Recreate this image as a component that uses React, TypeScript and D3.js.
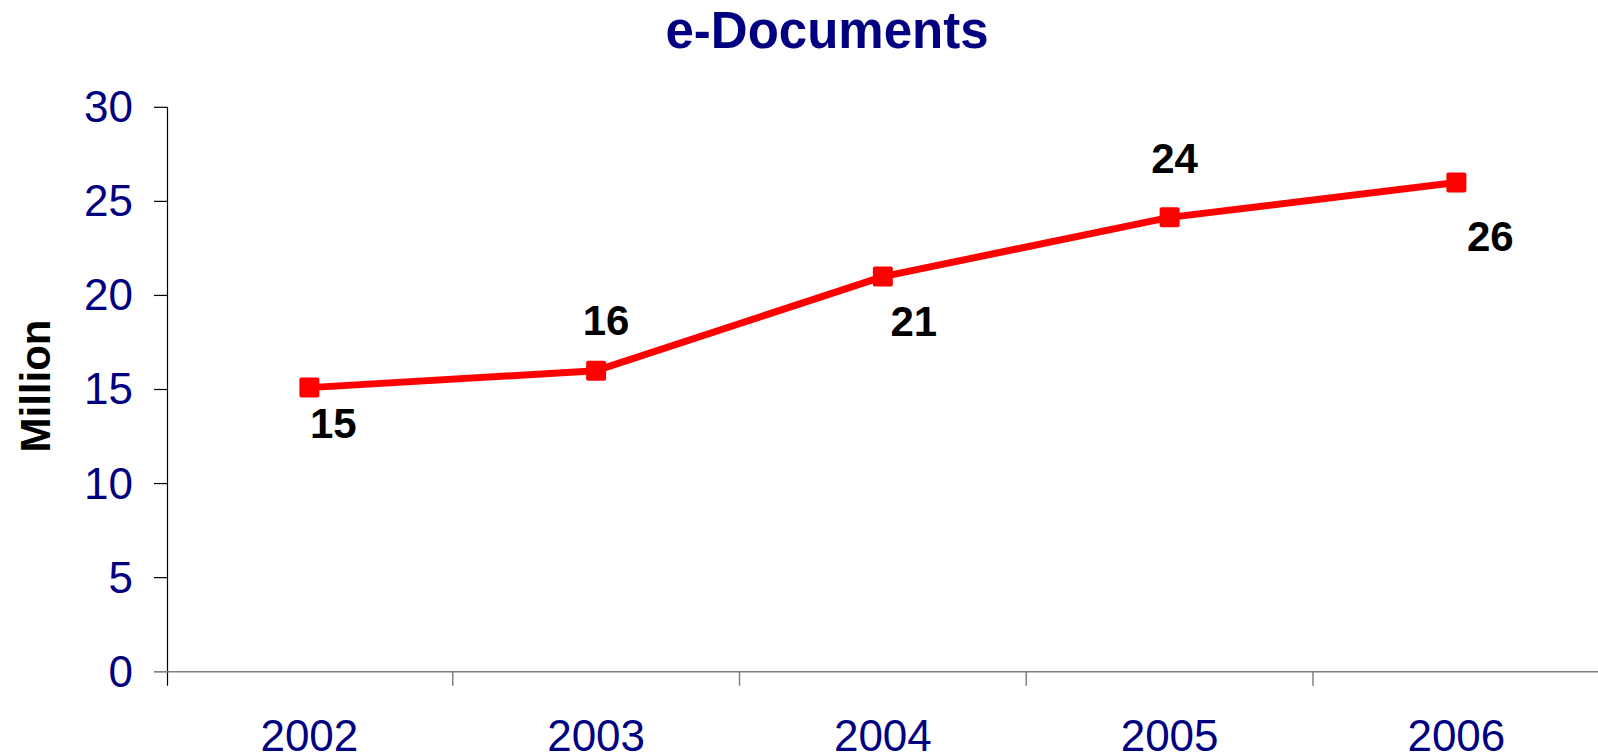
import React, { useEffect } from "react";
import * as d3 from "d3";

const years = ["2002", "2003", "2004", "2005", "2006"];
const documents = [15.1, 16, 21, 24.15, 26];
const yTicks = [0, 5, 10, 15, 20, 25, 30];

// label nudges (dx, dy from the marker centre), as placed in the original
const labelOffsets: [number, number][] = [
  [24, 50],
  [10, -36],
  [31, 59],
  [5, -44],
  [34, 68],
];

const W = 1598;
const H = 756;
const FONT = "'Liberation Sans', Arial, sans-serif";
const NAVY = "#000080";

const App: React.FC = () => {
  useEffect(() => {
    document.body.style.margin = "0";
    document.body.style.overflow = "hidden";
  }, []);

  const axisX = 167.5;
  const x = d3
    .scaleBand<string>()
    .domain(years)
    .range([166, 166 + 5 * 286.75]);
  const y = d3.scaleLinear().domain([0, 30]).range([671.7, 107.3]);
  const cx = (d: string) => (x(d) ?? 0) + x.bandwidth() / 2;

  const line = d3
    .line<number>()
    .x((_, i) => cx(years[i]))
    .y((v) => y(v));

  const fmt = d3.format(".0f");
  const y0 = y(0);

  return (
    <svg
      width={W}
      height={H}
      style={{ position: "absolute", left: 0, top: 0, display: "block" }}
      fontFamily={FONT}
    >
      <rect width={W} height={H} fill="#fff" />
      <text
        x={827}
        y={48}
        textAnchor="middle"
        fontSize={51}
        fontWeight="bold"
        fill={NAVY}
      >
        e-Documents
      </text>

      <text
        transform={`translate(50,386) rotate(-90)`}
        textAnchor="middle"
        fontSize={42}
        fontWeight="bold"
        fill="#000"
      >
        Million
      </text>

      {/* y axis */}
      <line x1={axisX} x2={axisX} y1={y(30)} y2={y0 + 14} stroke="#000" strokeWidth={1.2} />
      {yTicks.map((t) => (
        <g key={t}>
          <line x1={154} x2={axisX} y1={y(t)} y2={y(t)} stroke={t === 0 ? "#808080" : "#000"} strokeWidth={1.2} />
          <text
            x={133}
            y={y(t)}
            dy="0.34em"
            textAnchor="end"
            fontSize={44}
            fill={NAVY}
          >
            {t}
          </text>
        </g>
      ))}

      {/* x axis */}
      <line x1={154} x2={W} y1={y0} y2={y0} stroke="#808080" strokeWidth={1.5} />
      {years.slice(1).map((d) => (
        <line
          key={d}
          x1={x(d)}
          x2={x(d)}
          y1={y0}
          y2={y0 + 14}
          stroke="#808080"
          strokeWidth={1.5}
        />
      ))}
      {years.map((d) => (
        <text
          key={d}
          x={cx(d)}
          y={751}
          textAnchor="middle"
          fontSize={44}
          fill={NAVY}
        >
          {d}
        </text>
      ))}

      {/* series */}
      <path
        d={line(documents) ?? ""}
        fill="none"
        stroke="#ff0000"
        strokeWidth={7}
        strokeLinejoin="round"
      />
      {documents.map((v, i) => (
        <rect
          key={i}
          x={cx(years[i]) - 10}
          y={y(v) - 10}
          width={20}
          height={20}
          rx={2}
          fill="#ff0000"
        />
      ))}
      {documents.map((v, i) => (
        <text
          key={i}
          x={cx(years[i]) + labelOffsets[i][0]}
          y={y(v) + labelOffsets[i][1]}
          textAnchor="middle"
          fontSize={42}
          fontWeight="bold"
          fill="#000"
        >
          {fmt(v)}
        </text>
      ))}
    </svg>
  );
};

export default App;
